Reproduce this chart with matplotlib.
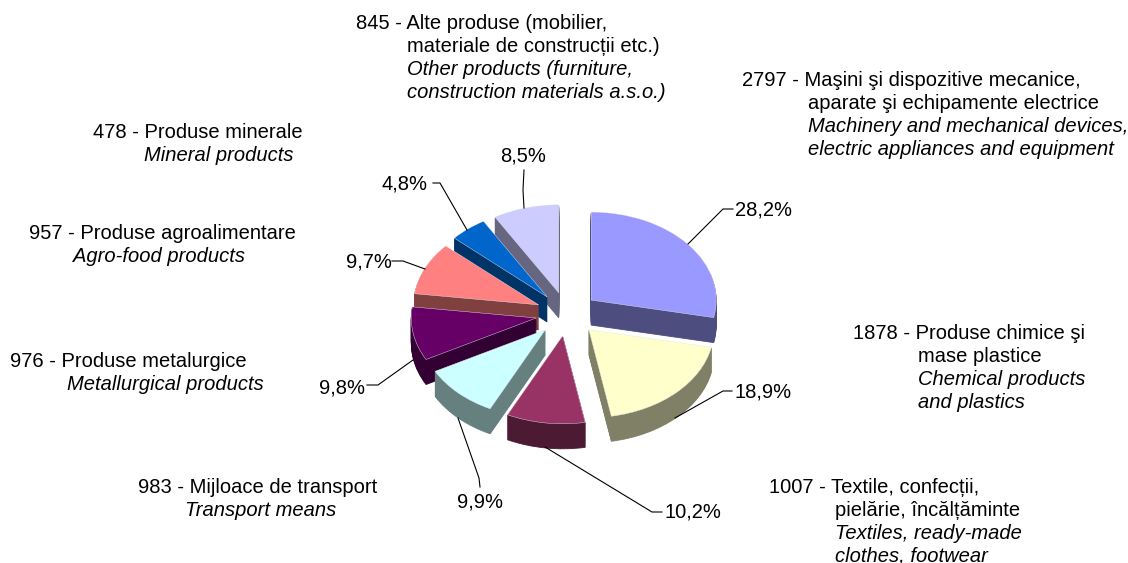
import matplotlib
matplotlib.use("Agg")
import matplotlib.pyplot as plt

# DATA (clockwise from 12 o'clock)
values=[2797,1878,1007,983,976,957,478,845]
percent_labels=["28,2%","18,9%","10,2%","9,9%","9,8%","9,7%","4,8%","8,5%"]
top_colors=["#9999FF","#FFFFCC","#993366","#CCFFFF","#660066","#FF8080","#0066CC","#CCCCFF"]
side_colors=["#4D4D80","#808066","#4D1A33","#668080","#330033","#804040","#003366","#666680"]

# text lines : (string, italic)
label_lines=[
    [("2797 - Maşini şi dispozitive mecanice,",False),("aparate şi echipamente electrice",False),
     ("Machinery and mechanical devices,",True),("electric appliances and equipment",True)],
    [("1878 - Produse chimice şi",False),("mase plastice",False),("Chemical products",True),("and plastics",True)],
    [("1007 - Textile, confecții,",False),("pielărie, încălțăminte",False),("Textiles, ready-made",True),("clothes, footwear",True)],
    [("983 - Mijloace de transport",False),("Transport means",True)],
    [("976 - Produse metalurgice",False),("Metallurgical products",True)],
    [("957 - Produse agroalimentare",False),("Agro-food products",True)],
    [("478 - Produse minerale",False),("Mineral products",True)],
    [("845 - Alte produse (mobilier,",False),("materiale de construcții etc.)",False),
     ("Other products (furniture,",True),("construction materials a.s.o.)",True)],
]

# layout in pixels of the picture
W=1128; H=563
cx=567; cy=314; rx=125; ry=88; depth=25
label_x=[(742,808),(853,918),(769,835),(138,185),(10,67),(29,73),(93,144),(356,407)]
label_y=[79,332,486,486,360,232,131,22]
line_h=22.9
pct_x=[735,735,665,457,319,346,381,500]
pct_y=[209,391,511,501,386,261,183,155]
leaders=[
    [(733,209),(723,209),(688,244)],
    [(732,391),(723,391),(675,418)],
    [(662,512),(652,512),(545,447)],
    [(480,487),(479,478),(458,418)],
    [(367,385),(378,385),(413,360)],
    [(392,261),(403,261),(425,269)],
    [(433,183),(440,183),(467,230)],
    [(524,170),(523,190),(524,208)],
]
draw_order=[7,0,6,5,4,1,3,2]  # back to front
fsz=14.5

fig=plt.figure(figsize=[W/100,H/100],dpi=100)
ax=fig.add_axes([0,0,1,1])   # pie, units of radius
ov=fig.add_axes([0,0,1,1])   # texts, pixels
ov.set_xlim(0,W); ov.set_ylim(H,0); ov.axis("off")
ov.patch.set_alpha(0)

explode=[0.25]*len(values)
rank={s:i for i,s in enumerate(draw_order)}

# stacked copies of the pie give the depth
for k in range(depth,-1,-1):
    clrs=side_colors if k>0 else top_colors
    wedges,_=ax.pie(values,explode=explode,colors=clrs,startangle=90,counterclock=False,
                    center=(0,-k/ry),wedgeprops={"linewidth":0.3 if k==0 else 0.6,
                                                 "edgecolor":"#E8E8F0" if k==0 else None})
    for i,w in enumerate(wedges):
        w.set_zorder(rank[i]*100+depth-k+1)
        if k>0:
            w.set_edgecolor(clrs[i])

ax.set_aspect("auto")
ax.set_xlim(-cx/rx,(W-cx)/rx)
ax.set_ylim((cy-H)/ry,cy/ry)

for pts in leaders:
    ov.plot([p[0] for p in pts],[p[1] for p in pts],color="black",lw=0.8,solid_joinstyle="miter")

for s,x,y in zip(percent_labels,pct_x,pct_y):
    ov.text(x,y+7,s,fontsize=fsz,family="Liberation Sans",va="baseline",ha="left")

for lines,(x1,x2),y in zip(label_lines,label_x,label_y):
    for j,(s,ital) in enumerate(lines):
        ov.text(x1 if j==0 else x2,y+7+j*line_h,s,fontsize=fsz,family="Liberation Sans",
                style="italic" if ital else "normal",va="baseline",ha="left")

fig.savefig("out.png",dpi=100)
